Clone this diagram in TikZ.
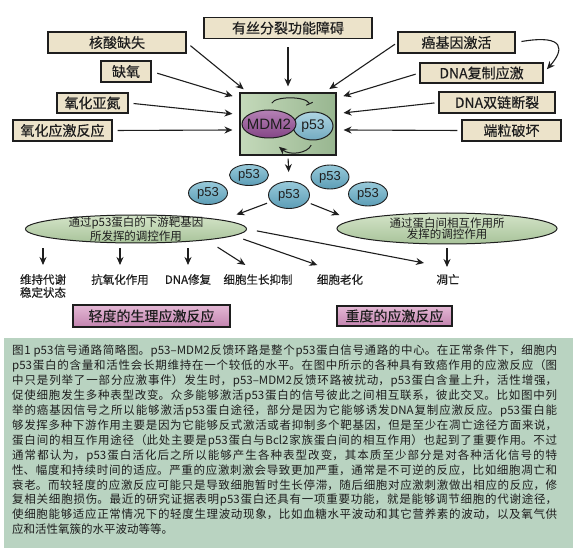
\documentclass[tikz,border=0pt]{standalone}
\usepackage{fontspec}
\setmainfont{Noto Sans CJK SC}
\newfontfamily\cjkmed[FakeBold=0.35]{Noto Sans CJK SC}
\newfontfamily\sansLat{Liberation Sans}
\usetikzlibrary{arrows.meta,shapes.geometric}

\definecolor{ink}{HTML}{1E1E1E}
\definecolor{beige}{HTML}{ECE3CA}
\definecolor{boxgreenL}{HTML}{C4D9BA}
\definecolor{boxgreenD}{HTML}{98B690}
\definecolor{mdmtop}{HTML}{B581B5}
\definecolor{mdmbot}{HTML}{844686}
\definecolor{ptop}{HTML}{AED5E2}
\definecolor{pbot}{HTML}{74ABC1}
\definecolor{sptop}{HTML}{98CADA}
\definecolor{spbot}{HTML}{5C9DB6}
\definecolor{ellL}{HTML}{D4E4C8}
\definecolor{ellD}{HTML}{A8C39A}
\definecolor{pinkL}{HTML}{E4B8D5}
\definecolor{pinkD}{HTML}{C384AF}
\definecolor{capbg}{HTML}{B9D3C1}

\newcommand\cjkcapfont{\fontsize{11.5}{14.9}\selectfont
  \XeTeXlinebreaklocale "zh"\XeTeXlinebreakskip=0pt plus 3pt minus 0.5pt\relax}

\tikzset{
  cause/.style={draw=ink, line width=1.1pt, fill=beige, inner sep=0pt, text=ink,
    font=\cjkmed\fontsize{14}{16}\selectfont},
  arr/.style={-{Stealth[length=8pt,width=7pt]}, line width=1.1pt, draw=ink},
  pball/.style={ellipse, draw=ink, line width=0.9pt, top color=sptop, bottom color=spbot,
    inner sep=0pt, text=ink, font=\sansLat\fontsize{13}{13}\selectfont},
  regell/.style={ellipse, draw=ink, line width=1pt, top color=ellL, bottom color=ellD,
    inner xsep=-20pt, inner ysep=-5pt, align=center, text=ink,
    font=\fontsize{11.5}{11.5}\selectfont},
  effect/.style={anchor=north, inner sep=1pt, align=center, text=ink,
    font=\cjkmed\fontsize{11.5}{13}\selectfont},
  level/.style={draw=ink, line width=1.1pt, top color=pinkL, bottom color=pinkD,
    inner sep=0pt, text=ink, font=\cjkmed\fontsize{14}{16}\selectfont},
}

\begin{document}
\begin{tikzpicture}[x=1pt, y=-1pt]
  \useasboundingbox (0,0) rectangle (573,548);

  % stress signals
  \node[cause, minimum width=138pt, minimum height=21pt] (hesuan) at (117,42.5) {核酸缺失};
  \node[cause, minimum width=50pt, minimum height=21pt] (queyang) at (126,71.5) {缺氧};
  \node[cause, minimum width=71pt, minimum height=20pt] (yanghua) at (92.5,103) {氧化亚氮};
  \node[cause, minimum width=99pt, minimum height=21pt] (yinghua) at (62.5,130.5) {氧化应激反应};
  \node[cause, minimum width=168pt, minimum height=21pt] (sisi) at (288,28) {有丝分裂功能障碍};
  \node[cause, minimum width=117pt, minimum height=21pt] (aijiyin) at (456.5,42.5) {癌基因激活};
  \node[cause, minimum width=123pt, minimum height=20pt] (fuzhi) at (481.5,73) {DNA复制应激};
  \node[cause, minimum width=116pt, minimum height=21pt] (shuanglian) at (497,102.5) {DNA双链断裂};
  \node[cause, minimum width=99pt, minimum height=21pt] (duanli) at (511.5,130.5) {端粒破坏};

  % feedback loop
  \node[draw=ink, line width=1.1pt, left color=boxgreenL, right color=boxgreenD,
    minimum width=96pt, minimum height=62pt, inner sep=0pt] (mdm) at (288,124) {};
  \node[ellipse, draw=ink, line width=1pt, top color=ptop, bottom color=pbot, minimum width=40pt,
    minimum height=28pt, inner sep=0pt, text=ink, font=\sansLat\fontsize{14}{14}\selectfont] (pin) at (313,126) {p53};
  \node[ellipse, draw=ink, line width=1pt, top color=mdmtop, bottom color=mdmbot, minimum width=54pt,
    minimum height=28pt, inner sep=0pt, text=ink, font=\sansLat\fontsize{15}{15}\selectfont] (mdmtwo) at (269,124) {\makebox[0pt]{MDM2}};
  \draw[line width=1pt, draw=ink, -{Bar[width=7pt]}, shorten <=7pt, shorten >=8pt]
    (mdmtwo.north) .. controls (275,96) and (306,96) .. (pin.north);
  \draw[line width=1pt, draw=ink, -{Stealth[length=8pt,width=7pt]}, shorten <=5pt, shorten >=13pt]
    (pin.south) .. controls (308,153) and (290,156) .. (mdmtwo.south);

  \draw[arr, shorten <=5pt, shorten >=5pt] (hesuan.east) -- (mdm.142);
  \draw[arr, shorten <=6pt, shorten >=7pt] (queyang.east) -- (mdm.152);
  \draw[arr, shorten <=5pt, shorten >=7pt] (yanghua.east) -- (mdm.169);
  \draw[arr, shorten <=5pt, shorten >=7pt] (yinghua.east) -- (mdm.187);
  \draw[arr, shorten <=8pt, shorten >=6pt] (sisi.south) -- (mdm.north);
  \draw[arr, shorten <=3pt, shorten >=6pt] (aijiyin.west) -- (mdm.41);
  \draw[arr, shorten <=4pt, shorten >=7pt] (fuzhi.west) -- (mdm.28);
  \draw[arr, shorten <=4pt, shorten >=7pt] (shuanglian.west) -- (mdm.12);
  \draw[arr, shorten <=4pt, shorten >=7pt] (duanli.west) -- (mdm.-7);
  \draw[arr, shorten <=6pt, shorten >=5pt] (aijiyin.east) .. controls (566,34) and (564,50) .. (fuzhi.east);

  % activated p53
  \node[pball, minimum width=39pt, minimum height=21pt] (pa) at (249,175) {p53};
  \node[pball, minimum width=39pt, minimum height=23pt] (pb) at (208,193) {p53};
  \node[pball, minimum width=41pt, minimum height=27pt] (pc) at (289,195) {p53};
  \node[pball, minimum width=38pt, minimum height=24pt] (pd) at (330,177) {p53};
  \node[pball, minimum width=39pt, minimum height=24pt] (pe) at (368,194) {p53};
  \draw[arr, shorten <=3pt, shorten >=9pt] (mdm.south) -- (pc.north);

  % two ways of regulation
  \node[regell, minimum width=221pt, minimum height=28pt] (lefte) at (136,229) {通过p53蛋白的下游靶基因\\所发挥的调控作用};
  \node[regell, minimum width=220pt, minimum height=31pt] (righte) at (447,228.5) {通过蛋白间相互作用所\\发挥的调控作用};
  \draw[arr, shorten <=4pt, shorten >=15pt] (pc) -- (lefte.6);
  \draw[arr, shorten <=4pt, shorten >=14pt] (pc) -- (righte.175);

  % outcomes
  \node[effect] (weichi) at (43,273) {维持代谢\\稳定状态};
  \node[effect] (kangyang) at (120,273) {抗氧化作用};
  \node[effect] (xiufu) at (188,273) {DNA修复};
  \node[effect] (yizhi) at (258,273) {细胞生长抑制};
  \node[effect] (laohua) at (340,273) {细胞老化};
  \node[effect] (diaowang) at (448,273) {凋亡};
  \coordinate (diaoIn) at (424,263);

  \draw[arr, shorten <=5pt, shorten >=8pt] (lefte.south -| weichi.north) -- (weichi.north);
  \draw[arr, shorten <=5pt, shorten >=8pt] (lefte.south -| kangyang.north) -- (kangyang.north);
  \draw[arr, shorten <=5pt, shorten >=8pt] (lefte.south -| xiufu.north) -- (xiufu.north);
  \draw[arr, shorten <=13pt, shorten >=15pt] (lefte.-9) -- (yizhi.north);
  \draw[arr, shorten <=10pt, shorten >=24pt] (lefte.-4) -- (laohua.north);
  \draw[arr, shorten <=10pt] (lefte.east) -- (diaoIn);
  \draw[arr, shorten <=4pt, shorten >=6pt] (righte.south) -- (righte.south |- diaowang.north);

  \node[level, minimum width=157pt, minimum height=22pt] (qingdu) at (151.5,316) {轻度的生理应激反应};
  \node[level, minimum width=115pt, minimum height=20pt] (zhongdu) at (394.5,316) {重度的应激反应};

  % caption
  \fill[capbg] (4,338) rectangle (573,548);
  \node[anchor=north west, inner sep=0pt, text width=545pt, align=justify, text=ink, font=\cjkcapfont] (caption) at (12,345) {%
图1 p53信号通路简略图。p53–MDM2反馈环路是整个p53蛋白信号通路的中心。在正常条件下，细胞内\linebreak%
p53蛋白的含量和活性会长期维持在一个较低的水平。在图中所示的各种具有致癌作用的应激反应（图\linebreak%
中只是列举了一部分应激事件）发生时，p53–MDM2反馈环路被扰动，p53蛋白含量上升，活性增强，\linebreak%
促使细胞发生多种表型改变。众多能够激活p53蛋白的信号彼此之间相互联系，彼此交叉。比如图中列\linebreak%
举的癌基因信号之所以能够激活p53蛋白途径，部分是因为它能够诱发DNA复制应激反应。p53蛋白能\linebreak%
够发挥多种下游作用主要是因为它能够反式激活或者抑制多个靶基因，但是至少在凋亡途径方面来说，\linebreak%
蛋白间的相互作用途径（此处主要是p53蛋白与Bcl2家族蛋白间的相互作用）也起到了重要作用。不过\linebreak%
通常都认为，p53蛋白活化后之所以能够产生各种表型改变，其本质至少部分是对各种活化信号的特\linebreak%
性、幅度和持续时间的适应。严重的应激刺激会导致更加严重，通常是不可逆的反应，比如细胞凋亡和\linebreak%
衰老。而较轻度的应激反应可能只是导致细胞暂时生长停滞，随后细胞对应激刺激做出相应的反应，修\linebreak%
复相关细胞损伤。最近的研究证据表明p53蛋白还具有一项重要功能，就是能够调节细胞的代谢途径，\linebreak%
使细胞能够适应正常情况下的轻度生理波动现象，比如血糖水平波动和其它营养素的波动，以及氧气供\linebreak%
应和活性氧簇的水平波动等等。};
\end{tikzpicture}
\end{document}
